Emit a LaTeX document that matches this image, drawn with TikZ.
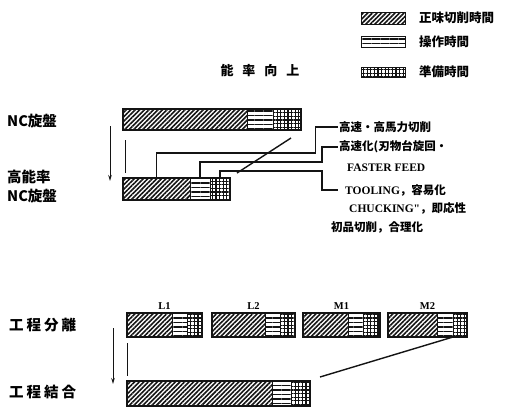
\documentclass[tikz,border=0pt]{standalone}
\usepackage{fontspec}
\setmainfont{Noto Sans CJK JP}
\newfontfamily\lat{Liberation Serif}
\usetikzlibrary{arrows.meta,positioning,calc,patterns.meta}
\definecolor{ink}{RGB}{20,20,20}
\tikzset{
  seg/.style={draw=ink,line width=1pt,outer sep=0pt,inner sep=0pt,minimum height=22pt},
  cut/.style={seg,pattern={Lines[angle=45,distance=3.2pt,line width=1.6pt]},pattern color=ink},
  ops/.style={seg,pattern={Lines[angle=0,distance=4.5pt,line width=1.7pt]},pattern color=ink},
  prep/.style={seg,pattern={Hatch[distance=3.6pt,line width=1.1pt]},pattern color=ink},
  rim/.style={draw=ink,line width=1.8pt},
  conn/.style={draw=ink,line width=1.4pt},
  guide/.style={draw=ink,line width=1pt},
  down/.style={-{Stealth[length=6pt,width=3.5pt]},line width=1pt,ink},
  lab/.style={font=\bfseries\fontsize{14.5}{19}\selectfont,anchor=west,inner sep=0pt},
  note/.style={font=\bfseries\fontsize{11.5}{12}\selectfont,anchor=west,inner sep=1pt},
  key/.style={font=\bfseries\fontsize{12.5}{13}\selectfont,anchor=west,inner sep=0pt},
  tag/.style={font=\lat\bfseries\fontsize{10.5}{10}\selectfont,inner sep=1pt,anchor=south},
}
% one bar = cutting | handling | set-up, placed by its north west corner
\newcommand{\segbar}[6][22]{%
  \node[cut,minimum height=#1pt,minimum width=#5pt,anchor=north west] (#2c) at (#3,#4) {};
  \node[ops,minimum height=#1pt,minimum width=#6pt,right=0pt of #2c] (#2o) {};
}
\newcommand{\segend}[3][22]{%
  \node[prep,minimum height=#1pt,minimum width=#3pt,right=0pt of #2o] (#2p) {};
  \draw[rim] (#2c.north west) rectangle (#2p.south east);
}

\begin{document}
\begin{tikzpicture}[x=1pt,y=-1pt,node distance=0pt]
\useasboundingbox (0,0) rectangle (506,408);

% legend
\node[cut,minimum width=44pt,minimum height=12pt] (kc) at (383,18) {};
\node[ops,minimum width=44pt,minimum height=11pt] (ko) at (383,42) {};
\node[prep,minimum width=44pt,minimum height=10pt] (kp) at (383,72) {};
\node[key] (kct) at (419,18) {正味切削時間};
\node[key] (kot) at (419,42) {操作時間};
\node[key] (kpt) at (419,72) {準備時間};

\node[font=\bfseries\fontsize{13}{13}\selectfont] (gain) at (260,71)
  {能\hspace{9pt}率\hspace{9pt}向\hspace{9pt}上};

% lathe: before / after
\node[lab] (nc) at (7,121) {NC旋盤};
\node[lab,align=left] (hnc) at (7,186) {高能率\\NC旋盤};
\segbar[21]{n1}{123}{109}{124}{26}
\segend[21]{n1}{28}
\segbar[22]{n2}{123}{178}{67}{20}
\segend[22]{n2}{20}

\coordinate (a1) at (110,126);
\coordinate (a2) at (110,181);
\draw[down] (a1) -- (a2);
\coordinate (g1) at (125,140);
\coordinate (g2) at (125,173);
\draw[guide] (g1) -- (g2);

% measures
\node[note] (t1) at (338,127) {高速・高馬力切削};
\node[note] (t2) at (338,147) {高速化(刃物台旋回・};
\node[note] (t3) at (346,168) {\lat FASTER FEED};
\node[note] (t4) at (344,190) {{\lat TOOLING}，容易化};
\node[note] (t5) at (348,208) {{\lat CHUCKING"}，即応性};
\node[note] (t6) at (330,227) {初品切削，合理化};

\draw[conn] (n2c.north) -- ++(0,-25) -- ++(159,0) |- (t1.west);
\draw[conn] (n2o.north) -- ++(0,-16) -- ++(122,0) |- (t2.west);
\draw[conn] (n2p.north) -- ++(0,-7) -- ++(102,0) |- ([xshift=-6pt]t4.west);
\draw[conn] (n1p.south) ++(4,8) -- ++(-54,35);

% process split / merge
\node[lab] (sep) at (9,325) {工\hspace{3pt}程\hspace{3pt}分\hspace{3pt}離};
\node[lab] (mrg) at (9,392) {工\hspace{3pt}程\hspace{3pt}結\hspace{3pt}合};
\segbar[24]{l1}{127}{313}{45}{15}
\segend[24]{l1}{15}
\segbar[24]{l2}{212}{313}{53}{15}
\segend[24]{l2}{15}
\segbar[24]{m1}{303}{313}{45}{15}
\segend[24]{m1}{17}
\segbar[24]{m2}{388}{313}{49}{16}
\segend[24]{m2}{14}
\foreach \b/\t in {l1/L1,l2/L2,m1/M1,m2/M2}
  \node[tag] (\b t) at ($(\b c.north west)!.5!(\b p.north east)+(0,-2)$) {\t};
\segbar[25]{kb}{127}{381}{145}{19}
\segend[25]{kb}{19}

\coordinate (b1) at (113,328);
\coordinate (b2) at (113,384);
\draw[down] (b1) -- (b2);
\coordinate (h1) at (127,343);
\coordinate (h2) at (127,376);
\draw[guide] (h1) -- (h2);
\draw[conn] (m2o.south east) -- ++(-133,40);
\end{tikzpicture}
\end{document}
